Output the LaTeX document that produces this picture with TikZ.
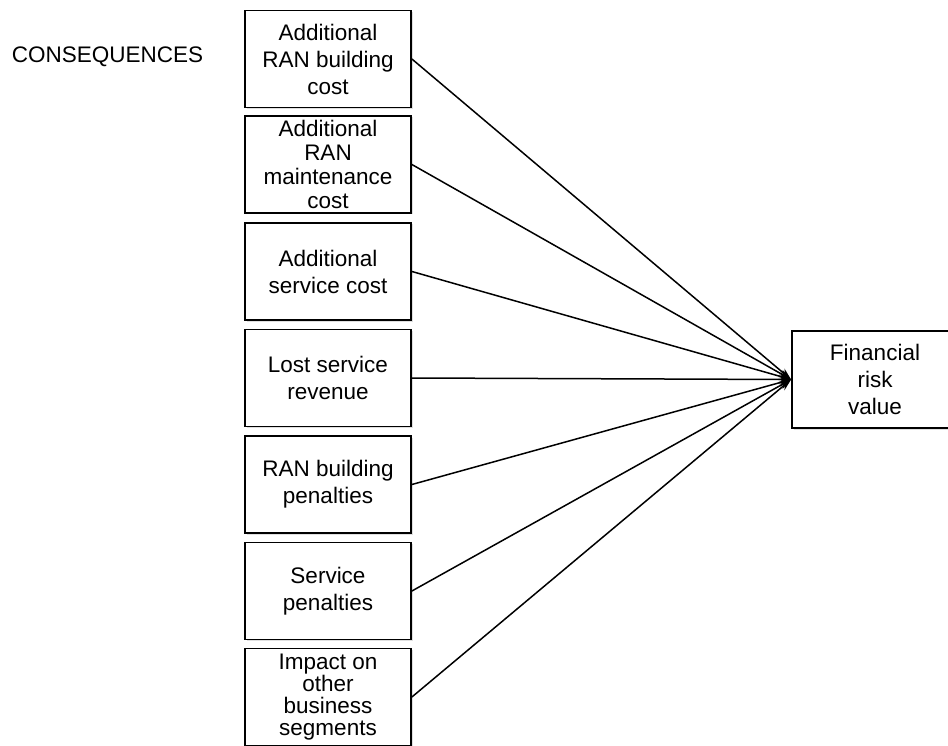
\documentclass[tikz,border=0pt]{standalone}
\usepackage{fontspec}
\setmainfont{Liberation Sans}
\usetikzlibrary{arrows.meta,shadows}
\begin{document}
\begin{tikzpicture}[x=1pt,y=-1pt,
  every node/.style={font=\fontsize{22.5}{27}\selectfont},
  itembox/.style={draw, line width=1.8pt, fill=white, align=center,
    minimum width=166pt, minimum height=97pt, inner sep=0pt,
    drop shadow={opacity=0.25, shadow xshift=1.5pt, shadow yshift=-1.5pt}},
  tight/.style={font=\fontsize{22.5}{24}\selectfont},
  tighter/.style={font=\fontsize{22.5}{22}\selectfont},
  link/.style={line width=1.5pt, -{Stealth[length=12pt,width=8pt]}}]
\useasboundingbox (0,0) rectangle (948,746);
\begin{scope}
\clip (0,0) rectangle (948,746);
\node[anchor=center] (title) at (107.5,57) {CONSEQUENCES};
\node[itembox] (c1) at (328,59)    {Additional\\RAN building\\cost};
\node[itembox,tight] (c2) at (328,164.5) {Additional\\RAN\\maintenance\\cost};
\node[itembox] (c3) at (328,271.5) {Additional\\service cost};
\node[itembox] (c4) at (328,378)   {Lost service\\revenue};
\node[itembox] (c5) at (328,484.5) {RAN building\\penalties};
\node[itembox] (c6) at (328,591)   {Service\\penalties};
\node[itembox,tighter] (c7) at (328,697) {Impact on\\other\\business\\segments};
\node[itembox] (fin) at (875,379.5) {Financial\\risk\\value};
\foreach \i in {1,...,7}
  \draw[link] (c\i.east) -- (fin.west);
\end{scope}
\end{tikzpicture}
\end{document}
